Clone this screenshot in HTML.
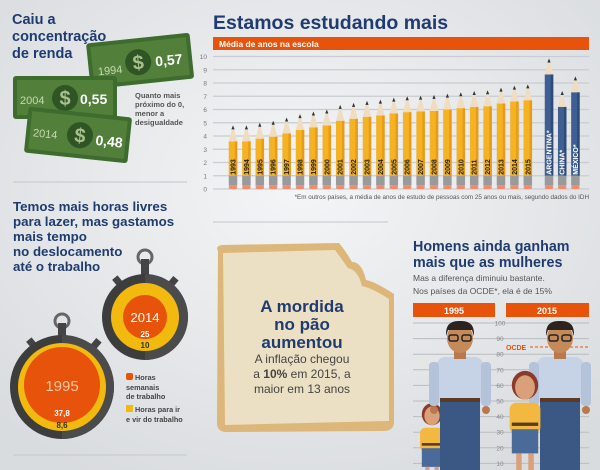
<!DOCTYPE html>
<html><head><meta charset="utf-8">
<style>
body{margin:0;width:600px;height:470px;overflow:hidden;background:#e9ebed;font-family:"Liberation Sans",sans-serif}
svg{display:block}
.t{font-family:"Liberation Sans",sans-serif;font-weight:bold;fill:#1f3b6f}
</style></head><body>
<svg id="svg" width="600" height="470" viewBox="0 0 600 470">
<defs>
<radialGradient id="bg" cx="50%" cy="40%" r="70%"><stop offset="0" stop-color="#f4f5f6"/><stop offset="1" stop-color="#d9dcdf"/></radialGradient>
</defs>
<rect width="600" height="470" fill="url(#bg)"/>

<g>
<text class="t" font-size="14.5"><tspan x="12" y="24">Caiu a</tspan><tspan x="12" y="41">concentração</tspan><tspan x="12" y="58">de renda</tspan></text>
<g transform="rotate(-6 140 60)">
<rect x="88" y="38" width="104" height="46" rx="3" fill="#3e6b2e"/><rect x="92" y="42" width="96" height="38" fill="#527f3a"/>
<circle cx="138" cy="62" r="13" fill="#2f5524"/><text x="138" y="69" text-anchor="middle" font-size="20" font-weight="bold" fill="#a9c08e">$</text>
<text x="97" y="71" font-size="11" fill="#c8d8b4">1994</text><text x="155" y="68" font-size="14" font-weight="bold" fill="#fff">0,57</text></g>
<g>
<rect x="13" y="76" width="104" height="43" rx="3" fill="#3e6b2e"/><rect x="17" y="80" width="96" height="35" fill="#527f3a"/>
<circle cx="65" cy="98" r="13" fill="#2f5524"/><text x="65" y="105" text-anchor="middle" font-size="20" font-weight="bold" fill="#a9c08e">$</text>
<text x="20" y="104" font-size="11" fill="#c8d8b4">2004</text><text x="80" y="104" font-size="14" font-weight="bold" fill="#fff">0,55</text></g>
<g transform="rotate(6 78 135)">
<rect x="26" y="112" width="104" height="46" rx="3" fill="#3e6b2e"/><rect x="30" y="116" width="96" height="38" fill="#527f3a"/>
<circle cx="80" cy="135" r="13" fill="#2f5524"/><text x="80" y="142" text-anchor="middle" font-size="20" font-weight="bold" fill="#a9c08e">$</text>
<text x="33" y="141" font-size="11" fill="#c8d8b4">2014</text><text x="96" y="143" font-size="14" font-weight="bold" fill="#fff">0,48</text></g>
<text font-size="7.5" font-weight="bold" fill="#555"><tspan x="135" y="98">Quanto mais</tspan><tspan x="135" y="107">próximo do 0,</tspan><tspan x="135" y="116">menor a</tspan><tspan x="135" y="125">desigualdade</tspan></text>
</g>
<line x1="13" y1="182" x2="187" y2="182" stroke="#c3c7cc"/>
<line x1="13" y1="455" x2="187" y2="455" stroke="#c3c7cc"/>
<line x1="213" y1="222" x2="388" y2="222" stroke="#c3c7cc"/>

<text class="t" x="213" y="29" font-size="19.5">Estamos estudando mais</text>
<rect x="213" y="37" width="376" height="13" fill="#e8530c"/>
<text x="219" y="47" font-size="8.5" font-weight="bold" fill="#fff">Média de anos na escola</text>
<g id="grid"></g>
<g id="pencils"></g>
<text x="589" y="199" text-anchor="end" font-size="6.3" fill="#555">*Em outros países, a média de anos de estudo de pessoas com 25 anos ou mais, segundo dados do IDH</text>

<text class="t" font-size="13.3"><tspan x="13" y="211">Temos mais horas livres</tspan><tspan x="13" y="226">para lazer, mas gastamos</tspan><tspan x="13" y="241">mais tempo</tspan><tspan x="13" y="256">no deslocamento</tspan><tspan x="13" y="271">até o trabalho</tspan></text>
<g>
<circle cx="145" cy="257" r="7" fill="none" stroke="#666" stroke-width="3"/>
<rect x="141" y="259" width="8" height="18" fill="#444"/>
<rect x="114" y="277" width="7" height="8" fill="#444" transform="rotate(-40 117 281)"/><rect x="170" y="277" width="7" height="8" fill="#444" transform="rotate(40 173 281)"/>
<circle cx="145" cy="317" r="43" fill="#3d3d3d"/><path d="M145 274 A43 43 0 0 1 145 360 Z" fill="#4b4b4b"/>
<circle cx="145" cy="317" r="34" fill="#f2b90f"/><circle cx="145" cy="317" r="22" fill="#e8530c"/>
<text x="145" y="322" text-anchor="middle" font-size="13" fill="#fff">2014</text>
<text x="145" y="337" text-anchor="middle" font-size="8" font-weight="bold" fill="#fff">25</text>
<text x="145" y="348" text-anchor="middle" font-size="8" font-weight="bold" fill="#333">10</text></g>
<g>
<circle cx="62" cy="321" r="7" fill="none" stroke="#666" stroke-width="3"/>
<rect x="58" y="323" width="8" height="18" fill="#444"/>
<rect x="28" y="339" width="7" height="9" fill="#444" transform="rotate(-40 31 343)"/><rect x="93" y="339" width="7" height="9" fill="#444" transform="rotate(40 96 343)"/>
<circle cx="62" cy="387" r="52" fill="#3d3d3d"/><path d="M62 335 A52 52 0 0 1 62 439 Z" fill="#4b4b4b"/>
<circle cx="62" cy="387" r="44" fill="#f2b90f"/><circle cx="62" cy="385" r="38" fill="#e8530c"/>
<text x="62" y="391" text-anchor="middle" font-size="15" fill="#f8c8a8">1995</text>
<text x="62" y="416" text-anchor="middle" font-size="8" font-weight="bold" fill="#fff">37,8</text>
<text x="62" y="428" text-anchor="middle" font-size="8" font-weight="bold" fill="#333">8,6</text></g>
<g>
<rect x="126" y="373" width="7" height="7" rx="2" fill="#e8530c"/>
<text font-size="7.3" font-weight="bold" fill="#444"><tspan x="135" y="380">Horas</tspan><tspan x="126" y="390">semanais</tspan><tspan x="126" y="399">de trabalho</tspan></text>
<rect x="126" y="405" width="7" height="7" fill="#f2b90f"/>
<text font-size="7.3" font-weight="bold" fill="#444"><tspan x="135" y="412">Horas para ir</tspan><tspan x="126" y="422">e vir do trabalho</tspan></text></g>

<g>
<path d="M218 251 Q215 246 222 245 L339 243 Q345 250 352 262 Q362 262 366 280 Q376 282 394 294 L394 420 Q395 430 385 431 L226 432 Q216 432 217 420 Z" fill="#ddb67a"/>
<path d="M223 253 L335 250 Q341 258 348 268 Q358 270 362 286 Q372 288 389 299 L389 421 L225 425 Z" fill="#ece0c4"/>
<text class="t" font-size="17" text-anchor="middle"><tspan x="302" y="312">A mordida</tspan><tspan x="302" y="330">no pão</tspan><tspan x="302" y="348">aumentou</tspan></text>
<text font-size="12" text-anchor="middle" fill="#444"><tspan x="302" y="363">A inflação chegou</tspan><tspan x="302" y="378">a <tspan font-weight="bold">10%</tspan> em 2015, a</tspan><tspan x="302" y="393">maior em 13 anos</tspan></text></g>

<text class="t" font-size="14.3"><tspan x="413" y="251">Homens ainda ganham</tspan><tspan x="413" y="267">mais que as mulheres</tspan></text>
<text font-size="8.5" fill="#555"><tspan x="413" y="281">Mas a diferença diminuiu bastante.</tspan><tspan x="413" y="294">Nos países da OCDE*, ela é de 15%</tspan></text>
<rect x="413" y="303" width="82" height="14" fill="#e8530c"/>
<text x="454" y="314" text-anchor="middle" font-size="9" font-weight="bold" fill="#fff">1995</text>
<rect x="506" y="303" width="83" height="14" fill="#e8530c"/>
<text x="547" y="314" text-anchor="middle" font-size="9" font-weight="bold" fill="#fff">2015</text>
<g id="scale"></g>
<line x1="530" y1="347" x2="589" y2="347" stroke="#e8530c" stroke-dasharray="3 2"/>
<text x="506" y="350" font-size="7" font-weight="bold" fill="#e8530c">OCDE</text>
<g id="people"></g>
</svg>
<script>
const years=["1993","1994","1995","1996","1997","1998","1999","2000","2001","2002","2003","2004","2005","2006","2007","2008","2009","2010","2011","2012","2013","2014","2015"];
const yearValues=[4.8,4.8,5.0,5.15,5.4,5.65,5.85,6.0,6.35,6.5,6.65,6.75,6.9,7.0,7.05,7.1,7.2,7.3,7.4,7.45,7.65,7.8,7.9];
const countries=["ARGENTINA*","CHINA*","MÉXICO*"];
const countryValues=[9.85,7.4,8.5];
const yTicks=[0,1,2,3,4,5,6,7,8,9,10];
const NS="http://www.w3.org/2000/svg";
function y(v){return 189-v*13.25;}
function mk(tag,attrs,parent){const e=document.createElementNS(NS,tag);for(const k in attrs)e.setAttribute(k,attrs[k]);parent.appendChild(e);return e;}
const grid=document.getElementById('grid');
yTicks.forEach(t=>{
 const l=mk('line',{x1:213,x2:589,y1:y(t),y2:y(t),stroke:'#c9ccd0','stroke-width':1.2},grid);
 
 
 const tx=mk('text',{x:207,y:y(t)+2.5,'text-anchor':'end','font-size':6.5,fill:'#777'},grid);
 tx.textContent=t;
 
 
});
const pg=document.getElementById('pencils');
function pencil(cx,v,label,body,dark,txtCol){
 const g=mk('g',{},pg);
 
 
 const w=8.5,top=y(v-1.2);
 mk('rect',{x:cx-w/2,y:top,width:w,height:y(1)-top,fill:body},g);
 mk('rect',{x:cx+w/2-2.5,y:top,width:2.5,height:y(1)-top,fill:dark},g);
 mk('path',{d:`M${cx-w/2} ${top} L${cx} ${y(v)} L${cx+w/2} ${top} Z`,fill:'#f0dcc0'},g);
 mk('path',{d:`M${cx-1.6} ${y(v)+4} L${cx} ${y(v)} L${cx+1.6} ${y(v)+4} Z`,fill:'#333'},g);
 mk('rect',{x:cx-w/2,y:y(1),width:w,height:y(0.25)-y(1),fill:'#9a9a9a'},g);
 mk('rect',{x:cx-w/2,y:y(0.25),width:w,height:y(0)-y(0.25),rx:2,fill:'#ef8c6e'},g);
 const t=mk('text',{x:0,y:0,'font-size':7,'font-weight':'bold',fill:txtCol,transform:`translate(${cx+2.5} ${y(1)-1}) rotate(-90)`},g);
 t.textContent=label;
}
years.forEach((yr,i)=>pencil(233+i*13.4,yearValues[i],yr,'#f5b324','#e89a18','#222'));
countries.forEach((c,i)=>pencil(549+i*13.2,countryValues[i],c,'#3f5f92','#2e4a78','#fff'));
const sc=document.getElementById('scale');
const scaleTicks=[10,20,30,40,50,60,70,80,90,100];
function hy(v){return 323+(100-v)*1.56;}
scaleTicks.forEach(t=>{
 const l=mk('line',{x1:413,x2:589,y1:hy(t),y2:hy(t),stroke:'#b9bcc0','stroke-width':1},sc);
 
 
 const tx=mk('text',{x:500,y:hy(t)+2.5,'text-anchor':'middle','font-size':6.5,fill:'#888'},sc);
 tx.textContent=t;
 
 
});
const pp=document.getElementById('people');
function man(cx,name){
 const g=mk('g',{},pp);
 
 
 mk('rect',{x:cx-23,y:357,width:46,height:48,rx:8,fill:'#c6d3e6'},g);
 mk('rect',{x:cx-31,y:362,width:10,height:44,rx:4,fill:'#b4c3da'},g);
 mk('rect',{x:cx+21,y:362,width:10,height:44,rx:4,fill:'#b4c3da'},g);
 mk('circle',{cx:cx-26,cy:410,r:4,fill:'#b7794d'},g);mk('circle',{cx:cx+26,cy:410,r:4,fill:'#b7794d'},g);
 mk('rect',{x:cx-20,y:398,width:40,height:4,fill:'#5a3a22'},g);
 mk('rect',{x:cx-20,y:402,width:40,height:68,fill:'#3b5783'},g);
 mk('rect',{x:cx-6,y:349,width:12,height:10,fill:'#b7794d'},g);
 mk('ellipse',{cx:cx,cy:338,rx:13,ry:15,fill:'#c58a5a'},g);
 mk('path',{d:`M${cx-14} 336 Q${cx-15} 320 ${cx} 321 Q${cx+15} 320 ${cx+14} 336 L${cx+12} 330 L${cx-12} 330 Z`,fill:'#2c2320'},g);
 mk('rect',{x:cx-11,y:335,width:9,height:6,rx:2,fill:'none',stroke:'#222','stroke-width':1.5},g);
 mk('rect',{x:cx+2,y:335,width:9,height:6,rx:2,fill:'none',stroke:'#222','stroke-width':1.5},g);
}
function woman(cx,top,s,name){
 const g=mk('g',{},pp);
 
 
 mk('ellipse',{cx:cx,cy:top+12*s,rx:12*s,ry:13*s,fill:'#8c3a2a'},g);
 mk('ellipse',{cx:cx,cy:top+14*s,rx:9*s,ry:11*s,fill:'#d9a07a'},g);
 mk('rect',{x:cx-14*s,y:top+28*s,width:28*s,height:28*s,rx:6*s,fill:'#f2b840'},g);
 mk('rect',{x:cx-12*s,y:top+46*s,width:24*s,height:3*s,fill:'#5a3a22'},g);
 mk('rect',{x:cx-12*s,y:top+52*s,width:24*s,height:22*s,fill:'#4a6a9a'},g);
 mk('rect',{x:cx-8*s,y:top+74*s,width:5*s,height:30*s,fill:'#d9a07a'},g);
 mk('rect',{x:cx+3*s,y:top+74*s,width:5*s,height:30*s,fill:'#d9a07a'},g);
}
woman(432,404,0.85,'woman-1995');
man(460,'man-1995');
man(560,'man-2015');
woman(525,372,1.1,'woman-2015');
</script>
</body></html>
